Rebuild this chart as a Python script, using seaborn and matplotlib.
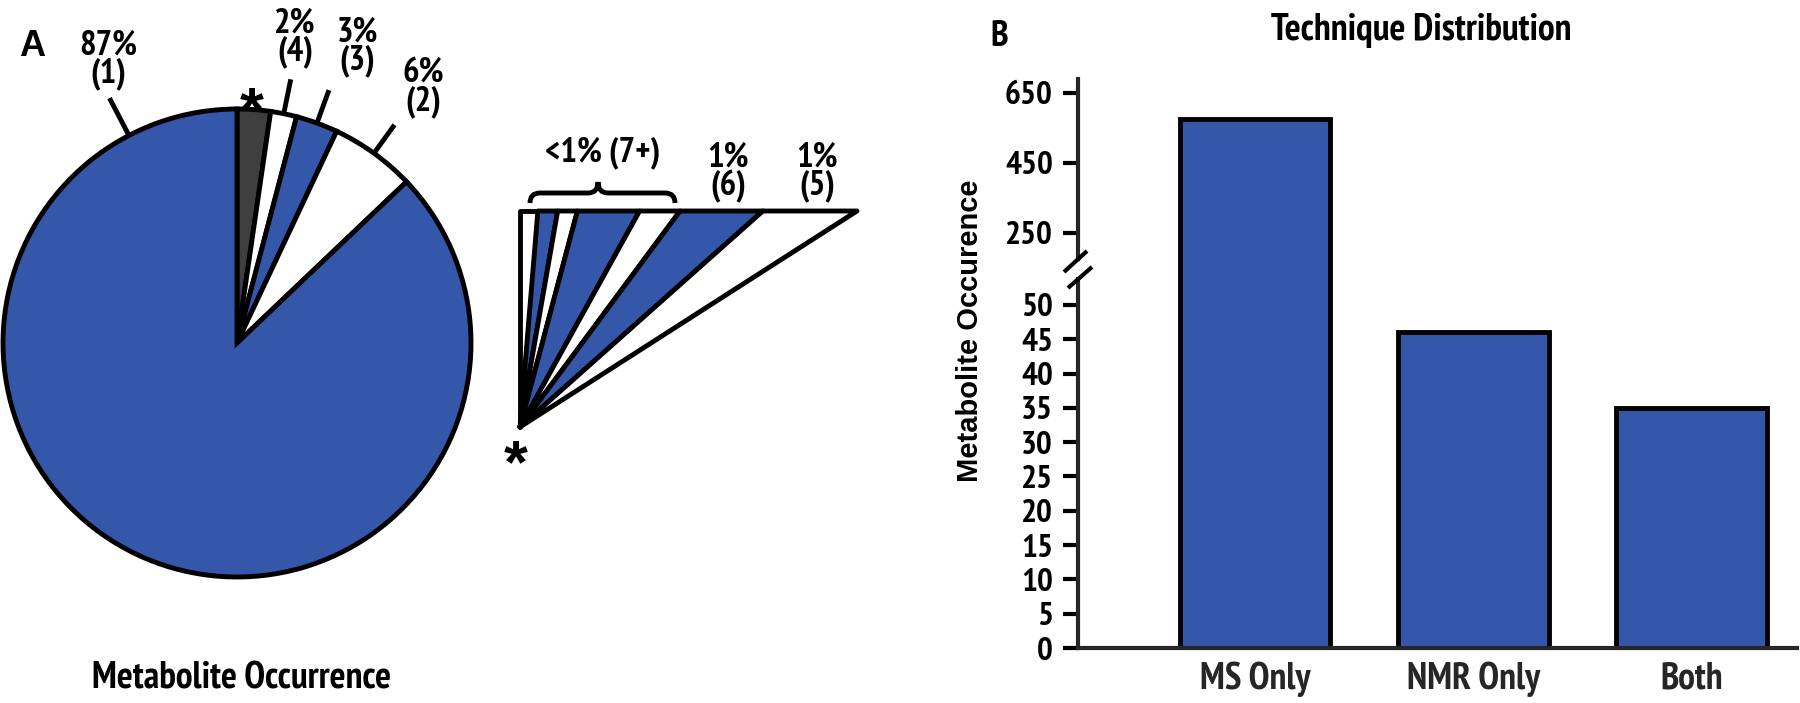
import numpy as np
import matplotlib
matplotlib.use("Agg")
import matplotlib.pyplot as plt
from matplotlib import font_manager
from matplotlib.patches import Polygon, PathPatch
from matplotlib.path import Path
import seaborn as sns

BLUE = "#3457A9"
DARK = "#3F3F3F"

# Panel A - metabolite occurrence, slices clockwise from 12 o'clock
slice_ids = ["*", "(4)", "(3)", "(2)", "(1)"]
slice_pct = [2.3, 1.8, 2.9, 5.9, 87.1]
slice_text = ["", "2%", "3%", "6%", "87%"]
slice_colors = [DARK, "white", BLUE, "white", BLUE]

# the "*" slice opened up: five (7+) pieces, then (6) and (5)
detail_share = [0.19, 0.21, 0.21, 0.66, 0.43, 0.88, 1.0]
detail_colors = ["white", BLUE, "white", BLUE, "white", BLUE, "white"]
detail_text = ["1%\n(6)", "1%\n(5)"]

# Panel B - technique distribution
techniques = ["MS Only", "NMR Only", "Both"]
occurrence = [575, 46, 35]
upper_ticks = [250, 450, 650]
lower_ticks = [0, 5, 10, 15, 20, 25, 30, 35, 40, 45, 50]


def pick_font(cands):
    # first candidate that really has a bold face installed
    bold = {f.name for f in font_manager.fontManager.ttflist
            if isinstance(f.weight, int) and f.weight >= 700}
    for c in cands:
        if c in bold:
            return c
    return "DejaVu Sans"


narrow = pick_font(["Liberation Sans Narrow", "Arial Narrow", "Archivo Narrow",
                    "PT Sans Narrow", "Roboto Condensed", "IBM Plex Sans Condensed",
                    "Open Sans Condensed"])
wide = pick_font(["Liberation Sans", "Arimo", "Arial", "Helvetica"])

sns.set_style("ticks")
NARROW = [narrow, "DejaVu Sans"]
WIDE = [wide, "DejaVu Sans"]
plt.rcParams["font.family"] = NARROW
plt.rcParams["font.weight"] = "bold"
plt.rcParams["text.color"] = "black"

W, H = 1800, 703
fig = plt.figure(figsize=(18, 7.03), dpi=100)

# overlay axes in pixel units (y up) for panel A and all loose labels
ax = fig.add_axes([0, 0, 1, 1])
ax.set_zorder(5)
cx, cy, R = 237, H - 343, 234
wedges, _ = ax.pie(slice_pct, colors=slice_colors, startangle=90,
                   counterclock=False, center=(cx, cy), radius=R,
                   wedgeprops=dict(edgecolor="black", linewidth=3.5))
ax.set_xlim(0, W)
ax.set_ylim(0, H)
ax.set_aspect("auto")
ax.axis("off")

# leader lines + labels
label_xy = {1: (295, 38), 2: (357, 47), 3: (423, 88), 4: (108, 60)}
for i in range(1, 5):
    w = wedges[i]
    ang = (w.theta1 + w.theta2) / 2 if i < 4 else 117.5
    r1 = 1.15 if i < 4 else 1.18
    a = np.deg2rad(ang)
    ax.plot([cx + R * np.cos(a), cx + r1 * R * np.cos(a)],
            [cy + R * np.sin(a), cy + r1 * R * np.sin(a)],
            color="black", lw=3.5, solid_capstyle="butt")
    lx, ly = label_xy[i]
    ax.text(lx, H - ly, f"{slice_text[i]}\n{slice_ids[i]}", ha="center",
            va="center", fontsize=25, fontweight="bold", linespacing=0.85)

ax.text(252, H - 93 - 36, "*", ha="center", va="baseline", fontsize=44,
        family=WIDE, fontweight="bold")
ax.text(32, H - 47, "A", ha="center", va="center", fontsize=26,
        family=WIDE, fontweight="bold")
ax.text(242, H - 679, "Metabolite Occurrence", ha="center", va="center",
        fontsize=27, fontweight="bold")

# exploded "*" slice as a triangle fan
apex = (520, H - 427)
top_y = H - 211
x0, x1 = 520, 857
cum = np.concatenate([[0], np.cumsum(detail_share)]) / np.sum(detail_share)
edges = x0 + (x1 - x0) * cum
for i, c in enumerate(detail_colors):
    ax.add_patch(Polygon([apex, (edges[i], top_y), (edges[i + 1], top_y)],
                         closed=True, facecolor=c, edgecolor="black",
                         lw=3.5, joinstyle="round"))

ax.text(603, H - 153, "<1% (7+)", ha="center", va="center", fontsize=25,
        fontweight="bold")
for j, t in enumerate(detail_text):
    k = 5 + j
    ax.text((edges[k] + edges[k + 1]) / 2 + 7, H - 172, t, ha="center",
            va="center", fontsize=25, fontweight="bold", linespacing=0.85)
ax.text(516, H - 446 - 36, "*", ha="center", va="baseline", fontsize=44,
        family=WIDE, fontweight="bold")

# curly brace over the (7+) group
bv = [(530, 203), (530, 193), (540, 193), (588, 193), (598, 193), (598, 182),
      (598, 193), (608, 193), (665, 193), (675, 193), (675, 203)]
bc = [Path.MOVETO, Path.CURVE3, Path.CURVE3, Path.LINETO, Path.CURVE3,
      Path.CURVE3, Path.CURVE3, Path.CURVE3, Path.LINETO, Path.CURVE3,
      Path.CURVE3]
ax.add_patch(PathPatch(Path([(x, H - y) for x, y in bv], bc),
                       facecolor="none", edgecolor="black", lw=3.5))

# Panel B - broken axis bar chart (the two axes touch, only the spine breaks)
left, right = 1078, 1797
ax_hi = fig.add_axes([left / W, (H - 259) / H, (right - left) / W, (259 - 79) / H])
ax_lo = fig.add_axes([left / W, (H - 648) / H, (right - left) / W, (648 - 259) / H])
for a in (ax_hi, ax_lo):
    sns.barplot(x=techniques, y=occurrence, color=BLUE, saturation=1,
                width=0.69, edgecolor="black", linewidth=3.5, ax=a)
    a.set_xlim(-0.811, 2.483)
    a.patch.set_visible(False)
    sns.despine(ax=a)
    a.set_xlabel("")
    a.set_ylabel("")
    for s in a.spines.values():
        s.set_linewidth(3)
    a.tick_params(axis="y", length=11, width=3, direction="out",
                  labelsize=24, pad=7, colors="black")

ax_hi.set_ylim(175.7, 690)
ax_hi.set_yticks(upper_ticks)
ax_hi.spines["bottom"].set_visible(False)
ax_hi.set_xticks([])

ax_lo.set_ylim(0, 56.7)
ax_lo.spines["left"].set_bounds(0, 53.8)
ax_lo.set_yticks(lower_ticks)
ax_lo.tick_params(axis="x", length=0, labelsize=27, pad=10)
for a in (ax_hi, ax_lo):
    for lab in a.get_xticklabels() + a.get_yticklabels():
        lab.set_fontweight("bold")

# break marks on the y axis
for (xa, ya), (xb, yb) in [((1064, 272), (1087, 251)), ((1068, 288), (1092, 267))]:
    ax.plot([xa, xb], [H - ya, H - yb], color="black", lw=3,
            solid_capstyle="butt")

ax.text(999, H - 36, "B", ha="center", va="center", fontsize=26,
        fontweight="bold")
ax.text(1421, H - 30, "Technique Distribution", ha="center", va="center",
        fontsize=27, fontweight="bold")
ax.text(970, H - 331, "Metabolite Occurence", ha="center", va="center",
        rotation=90, fontsize=21, family=WIDE, fontweight="bold")

fig.savefig("out.png", dpi=100)
